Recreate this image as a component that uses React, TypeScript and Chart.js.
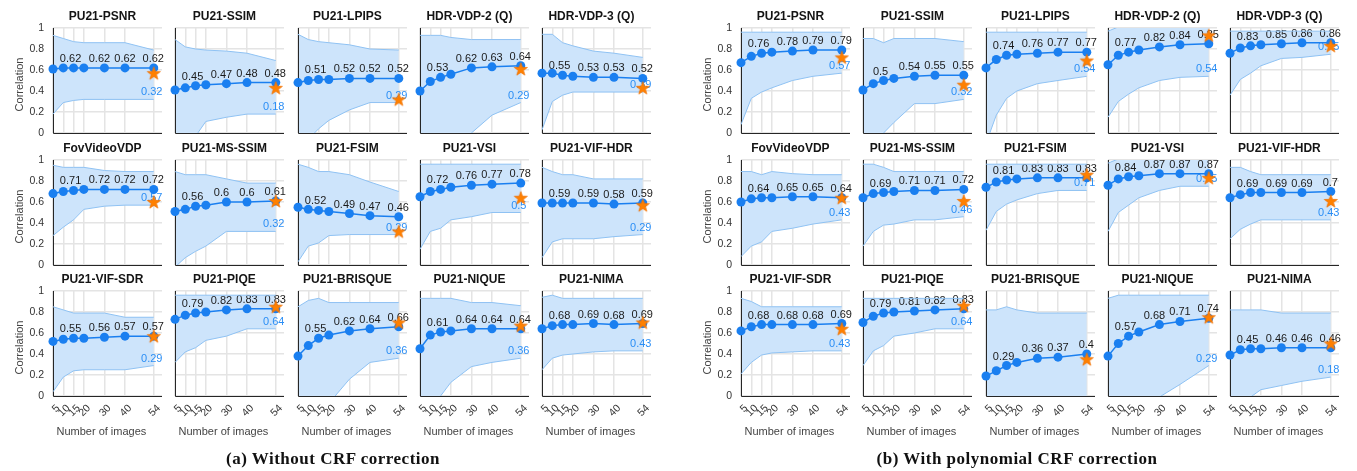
import React, { useEffect, useRef } from 'react';
import { Chart, registerables } from 'chart.js';

Chart.register(...registerables);

// ---------------- data ----------------
const xValues = [5, 10, 15, 20, 30, 40, 54];
const xTickLabels = ['5', '10', '15', '20', '30', '40', '54'];
const yTickValues = [0, 0.2, 0.4, 0.6, 0.8, 1];
const labelledIdx = [2, 4, 5, 6];

const metricNames = [
  'PU21-PSNR', 'PU21-SSIM', 'PU21-LPIPS', 'HDR-VDP-2 (Q)', 'HDR-VDP-3 (Q)',
  'FovVideoVDP', 'PU21-MS-SSIM', 'PU21-FSIM', 'PU21-VSI', 'PU21-VIF-HDR',
  'PU21-VIF-SDR', 'PU21-PIQE', 'PU21-BRISQUE', 'PU21-NIQUE', 'PU21-NIMA',
];

const groupCaptions = ['(a) Without CRF correction', '(b) With polynomial CRF correction'];

// (a) Without CRF correction
const meanA = [
  [0.61, 0.62, 0.62, 0.62, 0.62, 0.62, 0.62],
  [0.41, 0.43, 0.45, 0.46, 0.47, 0.48, 0.48],
  [0.48, 0.50, 0.51, 0.51, 0.52, 0.52, 0.52],
  [0.40, 0.49, 0.53, 0.56, 0.62, 0.63, 0.64],
  [0.57, 0.57, 0.55, 0.54, 0.53, 0.53, 0.52],
  [0.68, 0.70, 0.71, 0.72, 0.72, 0.72, 0.72],
  [0.51, 0.53, 0.56, 0.57, 0.60, 0.60, 0.61],
  [0.55, 0.53, 0.52, 0.51, 0.49, 0.47, 0.46],
  [0.65, 0.70, 0.72, 0.74, 0.76, 0.77, 0.78],
  [0.59, 0.59, 0.59, 0.59, 0.59, 0.58, 0.59],
  [0.52, 0.54, 0.55, 0.55, 0.56, 0.57, 0.57],
  [0.73, 0.77, 0.79, 0.80, 0.82, 0.83, 0.83],
  [0.38, 0.48, 0.55, 0.58, 0.62, 0.64, 0.66],
  [0.45, 0.58, 0.61, 0.62, 0.64, 0.64, 0.64],
  [0.64, 0.67, 0.68, 0.68, 0.69, 0.68, 0.69],
];
const upperA = [
  [0.93, 0.90, 0.87, 0.86, 0.86, 0.86, 0.79],
  [0.89, 0.82, 0.80, 0.79, 0.78, 0.76, 0.69],
  [0.94, 0.89, 0.87, 0.86, 0.84, 0.80, 0.79],
  [0.93, 0.93, 0.93, 0.91, 0.89, 0.89, 0.89],
  [0.94, 0.94, 0.86, 0.83, 0.78, 0.76, 0.72],
  [0.95, 0.93, 0.93, 0.93, 0.90, 0.89, 0.89],
  [0.89, 0.86, 0.86, 0.86, 0.82, 0.78, 0.78],
  [0.96, 0.93, 0.89, 0.89, 0.86, 0.79, 0.70],
  [0.96, 0.96, 0.96, 0.96, 0.96, 0.96, 0.96],
  [0.93, 0.89, 0.86, 0.86, 0.82, 0.82, 0.82],
  [0.85, 0.82, 0.79, 0.79, 0.79, 0.75, 0.75],
  [0.96, 0.96, 0.96, 0.96, 0.96, 0.96, 0.96],
  [0.85, 0.91, 0.93, 0.89, 0.89, 0.89, 0.89],
  [0.93, 0.93, 0.93, 0.93, 0.89, 0.89, 0.86],
  [0.94, 0.96, 0.93, 0.93, 0.93, 0.93, 0.93],
];
const lowerA = [
  [0.18, 0.29, 0.31, 0.32, 0.32, 0.32, 0.32],
  [-0.30, -0.15, -0.03, 0.11, 0.15, 0.18, 0.18],
  [-0.20, -0.06, 0.04, 0.12, 0.22, 0.29, 0.29],
  [-0.50, -0.40, -0.28, -0.17, 0.00, 0.17, 0.29],
  [0.03, 0.30, 0.36, 0.39, 0.39, 0.39, 0.39],
  [0.28, 0.36, 0.43, 0.53, 0.56, 0.57, 0.57],
  [-0.02, 0.07, 0.13, 0.18, 0.32, 0.32, 0.32],
  [0.03, 0.18, 0.21, 0.28, 0.29, 0.29, 0.29],
  [0.15, 0.32, 0.35, 0.43, 0.46, 0.50, 0.50],
  [0.07, 0.22, 0.25, 0.25, 0.25, 0.27, 0.29],
  [0.04, 0.18, 0.24, 0.25, 0.25, 0.25, 0.29],
  [0.32, 0.42, 0.46, 0.53, 0.57, 0.64, 0.64],
  [-0.50, -0.35, -0.20, -0.07, 0.16, 0.32, 0.36],
  [-0.35, -0.15, 0.00, 0.13, 0.28, 0.32, 0.36],
  [0.25, 0.36, 0.39, 0.40, 0.42, 0.43, 0.43],
];
const starA = [0.57, 0.43, 0.32, 0.61, 0.43, 0.60, 0.61, 0.32, 0.64, 0.57, 0.57, 0.85, 0.70, 0.67, 0.70];

// (b) With polynomial CRF correction
const meanB = [
  [0.67, 0.73, 0.76, 0.77, 0.78, 0.79, 0.79],
  [0.41, 0.47, 0.50, 0.52, 0.54, 0.55, 0.55],
  [0.62, 0.70, 0.74, 0.75, 0.76, 0.77, 0.77],
  [0.65, 0.74, 0.77, 0.79, 0.82, 0.84, 0.85],
  [0.76, 0.81, 0.83, 0.84, 0.85, 0.86, 0.86],
  [0.60, 0.63, 0.64, 0.64, 0.65, 0.65, 0.64],
  [0.64, 0.68, 0.69, 0.70, 0.71, 0.71, 0.72],
  [0.74, 0.79, 0.81, 0.82, 0.83, 0.83, 0.83],
  [0.76, 0.82, 0.84, 0.85, 0.87, 0.87, 0.87],
  [0.64, 0.67, 0.69, 0.69, 0.69, 0.69, 0.70],
  [0.62, 0.66, 0.68, 0.68, 0.68, 0.68, 0.69],
  [0.70, 0.76, 0.79, 0.80, 0.81, 0.82, 0.83],
  [0.19, 0.24, 0.29, 0.32, 0.36, 0.37, 0.40],
  [0.38, 0.50, 0.57, 0.61, 0.68, 0.71, 0.74],
  [0.39, 0.44, 0.45, 0.45, 0.46, 0.46, 0.46],
];
const upperB = [
  [0.96, 0.96, 0.96, 0.96, 0.96, 0.96, 0.96],
  [0.90, 0.90, 0.86, 0.90, 0.90, 0.90, 0.87],
  [0.96, 0.96, 0.96, 0.96, 0.96, 0.96, 0.96],
  [0.97, 1.01, 1.01, 1.01, 1.01, 1.01, 1.01],
  [0.97, 0.97, 0.97, 0.97, 0.97, 0.97, 0.97],
  [0.89, 0.89, 0.86, 0.89, 0.87, 0.86, 0.86],
  [0.96, 0.96, 0.93, 0.89, 0.89, 0.89, 0.89],
  [0.96, 0.96, 0.96, 0.96, 0.96, 0.96, 0.96],
  [0.97, 1.01, 1.01, 1.01, 1.01, 1.01, 1.01],
  [0.93, 0.93, 0.89, 0.86, 0.86, 0.86, 0.86],
  [0.93, 0.90, 0.85, 0.85, 0.85, 0.85, 0.85],
  [0.93, 0.93, 0.93, 0.93, 0.93, 0.93, 0.93],
  [0.82, 0.82, 0.85, 0.82, 0.79, 0.79, 0.79],
  [0.93, 0.96, 0.96, 0.96, 0.96, 0.96, 0.96],
  [0.82, 0.82, 0.82, 0.82, 0.79, 0.79, 0.79],
];
const lowerB = [
  [0.08, 0.33, 0.39, 0.43, 0.50, 0.54, 0.57],
  [-0.35, -0.15, 0.00, 0.10, 0.28, 0.28, 0.32],
  [-0.10, 0.17, 0.33, 0.40, 0.47, 0.50, 0.54],
  [0.15, 0.30, 0.37, 0.43, 0.50, 0.53, 0.54],
  [0.36, 0.51, 0.57, 0.64, 0.71, 0.72, 0.75],
  [0.08, 0.18, 0.22, 0.32, 0.35, 0.39, 0.43],
  [0.18, 0.32, 0.38, 0.39, 0.43, 0.43, 0.46],
  [0.33, 0.51, 0.58, 0.62, 0.68, 0.71, 0.71],
  [0.32, 0.50, 0.57, 0.64, 0.71, 0.75, 0.75],
  [0.25, 0.34, 0.39, 0.43, 0.43, 0.43, 0.43],
  [0.21, 0.32, 0.39, 0.41, 0.42, 0.43, 0.43],
  [0.29, 0.43, 0.48, 0.57, 0.60, 0.64, 0.64],
  [-0.50, -0.45, -0.40, -0.35, -0.30, -0.25, -0.20],
  [-0.90, -0.70, -0.50, -0.30, -0.01, 0.11, 0.29],
  [-0.40, -0.15, -0.01, 0.06, 0.10, 0.14, 0.18],
];
const starB = [0.72, 0.46, 0.69, 0.93, 0.83, 0.64, 0.61, 0.86, 0.83, 0.61, 0.64, 0.86, 0.35, 0.75, 0.50];

const groupMeans = [meanA, meanB];
const groupUppers = [upperA, upperB];
const groupLowers = [lowerA, lowerB];
const groupStars = [starA, starB];

// ---------------- layout & style ----------------
const GROUP_LEFT = [53, 741];
const COL_PITCH = 122.3;
const ROW_TOP = [28, 160, 291];
const PLOT_W = 109;
const PLOT_H = 105;
const PAD_L = 56;
const PAD_T = 30;
const PAD_R = 12;
const PAD_B = 62;
const CAPTION_CENTER = [333, 1017];
const LABEL_DX = [-3, -5, 0, -0.5]; // horizontal nudge (px) of the value labels

const FONT = '"Liberation Sans", Arial, sans-serif';
const LINE_BLUE = '#1a7ff0';
const TEXT_BLUE = '#2b8ef5';
const BAND_FILL = '#cde4fb';
const BAND_EDGE = '#8fc2f3';
const GRID = '#e4e4e4';
const STAR_FILL = '#ff8000';

const fmt = (v: number) => String(+v.toFixed(2));

function makeStar(): HTMLCanvasElement {
  const c = document.createElement('canvas');
  c.width = 16;
  c.height = 16;
  const g = c.getContext('2d')!;
  g.beginPath();
  for (let i = 0; i < 10; i++) {
    const r = i % 2 === 0 ? 6.9 : 2.8;
    const a = -Math.PI / 2 + (i * Math.PI) / 5;
    const px = 8 + r * Math.cos(a);
    const py = 8.6 + r * Math.sin(a);
    if (i === 0) g.moveTo(px, py);
    else g.lineTo(px, py);
  }
  g.closePath();
  g.fillStyle = STAR_FILL;
  g.fill();
  g.strokeStyle = '#ee7000';
  g.lineWidth = 0.7;
  g.stroke();
  return c;
}

function makePlugin(title: string, mean: number[], lower: number[], col: number, row: number) {
  return {
    id: 'panelDecor',
    // the band fill is drawn in beforeDatasetsDraw; this runs just before the first dataset is drawn
    beforeDatasetDraw(chart: any, args: any) {
      if (args.index !== 3) return;
      const { ctx, chartArea: a } = chart;
      const xs = chart.scales.x;
      const ys = chart.scales.y;
      ctx.save();
      // axis lines
      ctx.strokeStyle = '#262626';
      ctx.lineWidth = 1;
      ctx.beginPath();
      ctx.moveTo(Math.round(a.left) + 0.5, a.top);
      ctx.lineTo(Math.round(a.left) + 0.5, Math.round(a.bottom) + 0.5);
      ctx.lineTo(a.right, Math.round(a.bottom) + 0.5);
      ctx.stroke();

      // value labels
      ctx.font = `11px ${FONT}`;
      ctx.textAlign = 'center';
      ctx.textBaseline = 'middle';
      ctx.fillStyle = '#1a1a1a';
      labelledIdx.forEach((i, k) => {
        ctx.fillText(fmt(mean[i]), xs.getPixelForValue(xValues[i]) + LABEL_DX[k], ys.getPixelForValue(mean[i]) - 9);
      });
      // lower-bound label at the last sample
      const lo = lower[lower.length - 1];
      if (lo >= 0) {
        ctx.fillStyle = TEXT_BLUE;
        ctx.fillText(fmt(lo), xs.getPixelForValue(xValues[xValues.length - 1]) - 2, ys.getPixelForValue(lo) - 7);
      }

      // panel title
      const cx = (xs.getPixelForValue(xValues[0]) + xs.getPixelForValue(xValues[xValues.length - 1])) / 2;
      ctx.font = `bold 12px ${FONT}`;
      ctx.fillStyle = '#141414';
      ctx.fillText(title, cx - 1, a.top - 11);

      ctx.font = `11px ${FONT}`;
      ctx.fillStyle = '#444';
      if (row === 2) {
        ctx.fillText('Number of images', cx - 2, a.bottom + 36);
      }
      if (col === 0) {
        ctx.translate(a.left - 33, (a.top + a.bottom) / 2 + 4);
        ctx.rotate(-Math.PI / 2);
        ctx.fillText('Correlation', 0, 0);
      }
      ctx.restore();
    },
  };
}

export default function App() {
  const wrapRef = useRef<HTMLDivElement>(null);

  useEffect(() => {
    const wrap = wrapRef.current!;
    const charts: Chart[] = [];
    const canvases: HTMLCanvasElement[] = [];
    const starImg = makeStar();
    const W = PAD_L + PLOT_W + PAD_R;
    const H = PAD_T + PLOT_H + PAD_B;

    for (let g = 0; g < 2; g++) {
      for (let p = 0; p < 15; p++) {
        const col = p % 5;
        const row = Math.floor(p / 5);
        const plotLeft = Math.round(GROUP_LEFT[g] + col * COL_PITCH);
        const plotTop = ROW_TOP[row];
        const cv = document.createElement('canvas');
        cv.width = W;
        cv.height = H;
        cv.style.position = 'absolute';
        cv.style.left = `${plotLeft - PAD_L}px`;
        cv.style.top = `${plotTop - PAD_T}px`;
        cv.style.width = `${W}px`;
        cv.style.height = `${H}px`;
        wrap.appendChild(cv);
        canvases.push(cv);

        const mean = groupMeans[g][p];
        const upper = groupUppers[g][p];
        const lower = groupLowers[g][p];
        const star = groupStars[g][p];
        const pts = (arr: number[]) => xValues.map((x, i) => ({ x, y: arr[i] }));

        const chart = new Chart(cv, {
          type: 'line',
          data: {
            datasets: [
              {
                data: [{ x: xValues[xValues.length - 1], y: star }],
                showLine: false,
                pointStyle: starImg as any,
                pointRadius: 6,
                clip: false as any,
                fill: false,
              },
              {
                data: pts(mean),
                borderColor: LINE_BLUE,
                backgroundColor: LINE_BLUE,
                pointBackgroundColor: LINE_BLUE,
                pointBorderColor: LINE_BLUE,
                pointBorderWidth: 0,
                pointRadius: 4.5,
                borderWidth: 1.5,
                clip: false as any,
                fill: false,
              },
              {
                data: pts(upper),
                borderColor: BAND_EDGE,
                backgroundColor: BAND_FILL,
                borderWidth: 1,
                pointRadius: 0,
                fill: '+1',
              },
              {
                data: pts(lower),
                borderColor: BAND_EDGE,
                borderWidth: 1,
                pointRadius: 0,
                fill: false,
              },
            ],
          },
          options: {
            animation: false,
            responsive: false,
            events: [],
            layout: { padding: { left: 0, top: PAD_T, right: PAD_R, bottom: 0 } },
            plugins: {
              legend: { display: false },
              tooltip: { enabled: false },
              title: { display: false },
              filler: { drawTime: 'beforeDatasetsDraw' },
            },
            scales: {
              x: {
                type: 'linear',
                min: 5,
                max: 58,
                afterBuildTicks: (s: any) => {
                  s.ticks = xValues.map((v) => ({ value: v }));
                },
                afterFit: (s: any) => {
                  s.height = PAD_B;
                },
                grid: { color: GRID, lineWidth: 1.5, drawTicks: false },
                border: { display: false },
                ticks: {
                  display: row === 2,
                  autoSkip: false,
                  minRotation: 45,
                  maxRotation: 45,
                  padding: 6,
                  labelOffset: 5,
                  color: '#333',
                  font: { family: FONT, size: 10.5 },
                  callback: (v: any) => {
                    const i = xValues.indexOf(Number(v));
                    return i >= 0 ? xTickLabels[i] : '';
                  },
                },
              },
              y: {
                type: 'linear',
                min: 0,
                max: 1,
                afterBuildTicks: (s: any) => {
                  s.ticks = yTickValues.map((v) => ({ value: v }));
                },
                afterFit: (s: any) => {
                  s.width = PAD_L;
                },
                grid: { color: GRID, lineWidth: 1.5, drawTicks: false },
                border: { display: false },
                ticks: {
                  display: col === 0,
                  padding: 9,
                  color: '#333',
                  font: { family: FONT, size: 10.5 },
                  callback: (v: any) => String(Math.round(Number(v) * 10) / 10),
                },
              },
            },
          },
          plugins: [makePlugin(metricNames[p], mean, lower, col, row)],
        } as any);
        charts.push(chart);
      }
    }
    return () => {
      charts.forEach((c) => c.destroy());
      canvases.forEach((c) => c.remove());
    };
  }, []);

  return (
    <div
      ref={wrapRef}
      style={{ position: 'absolute', left: 0, top: 0, width: 1357, height: 471, background: '#fff', overflow: 'hidden' }}
    >
      {groupCaptions.map((t, i) => (
        <div
          key={t}
          style={{
            position: 'absolute',
            left: CAPTION_CENTER[i] - 300,
            width: 600,
            top: 449,
            textAlign: 'center',
            fontFamily: '"Liberation Serif", "DejaVu Serif", serif',
            fontWeight: 'bold',
            fontSize: 17,
            letterSpacing: '0.5px',
            lineHeight: '20px',
            color: '#111',
            zIndex: 2,
          }}
        >
          {t}
        </div>
      ))}
    </div>
  );
}
